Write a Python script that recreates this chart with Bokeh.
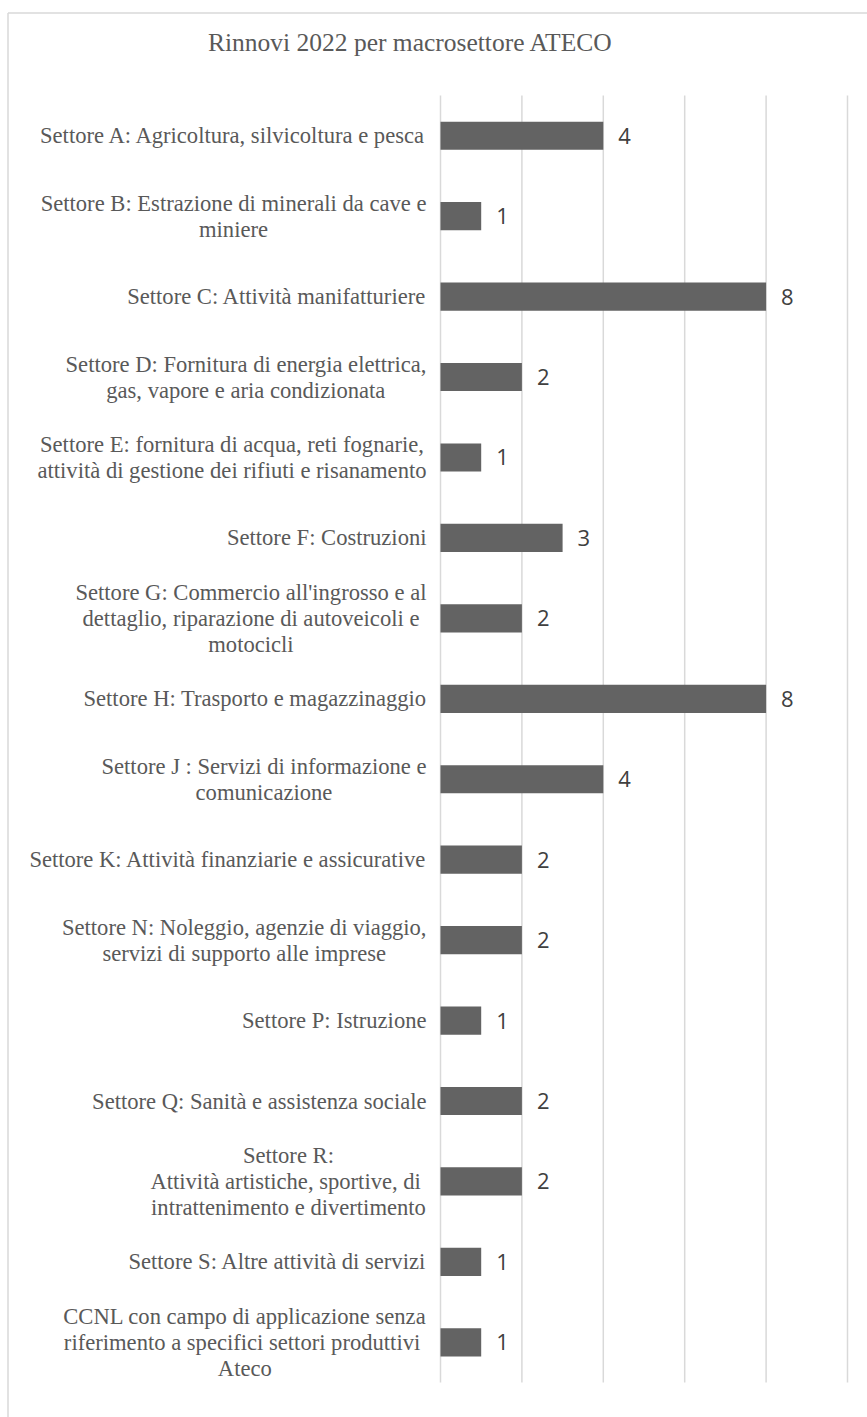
from bokeh.plotting import figure
from bokeh.models import Range1d, ColumnDataSource
from bokeh.core.properties import value
from bokeh.embed import file_html
from bokeh.resources import INLINE

# ---------------- data ----------------
TITLE = "Rinnovi 2022 per macrosettore ATECO"
CATEGORIES = [
    "Settore A: Agricoltura, silvicoltura e pesca",
    "Settore B: Estrazione di minerali da cave e\nminiere",
    "Settore C: Attività manifatturiere",
    "Settore D: Fornitura di energia elettrica,\ngas, vapore e aria condizionata",
    "Settore E: fornitura di acqua, reti fognarie,\nattività di gestione dei rifiuti e risanamento",
    "Settore F: Costruzioni",
    "Settore G: Commercio all'ingrosso e al\ndettaglio, riparazione di autoveicoli e\nmotocicli",
    "Settore H: Trasporto e magazzinaggio",
    "Settore J : Servizi di informazione e\ncomunicazione",
    "Settore K: Attività finanziarie e assicurative",
    "Settore N: Noleggio, agenzie di viaggio,\nservizi di supporto alle imprese",
    "Settore P: Istruzione",
    "Settore Q: Sanità e assistenza sociale",
    "Settore R:\nAttività artistiche, sportive, di \nintrattenimento e divertimento",
    "Settore S: Altre attività di servizi",
    "CCNL con campo di applicazione senza\nriferimento a specifici settori produttivi \nAteco",
]
VALUES = [4, 1, 8, 2, 1, 3, 2, 8, 4, 2, 2, 1, 2, 2, 1, 1]
X_TICKS = [0, 2, 4, 6, 8, 10]

# ---------------- layout ----------------
W, H = 867, 1417
ZERO_PX = 440                 # px where value 0 lies
UNIT_PX = 40.7                # px per unit of value
TOP_PX = 95                   # px of the top of the category area
BAND_PX = 80.44               # px per category band
LABEL_SIZE = 22.6
LABEL_GAP = 14
LINE_PX = 26
SERIF = "Liberation Serif"
TEXT_GREY = "#595959"
GRID_GREY = "#d9d9d9"
BAR_COLOR = "#636363"

x_start = -ZERO_PX / UNIT_PX
x_end = x_start + W / UNIT_PX
y_top = -0.5 - TOP_PX / BAND_PX
y_bot = y_top + H / BAND_PX


def fx(px):
    return x_start + px / UNIT_PX


def fy(py):
    return y_top + py / BAND_PX


# Times / Liberation Serif advance widths (1/1000 em), used to centre lines
_W = {' ': 250, "'": 180, ',': 250, ':': 278, '.': 250, 'à': 444,
      'A': 722, 'B': 667, 'C': 667, 'D': 722, 'E': 611, 'F': 556, 'G': 722,
      'H': 722, 'I': 333, 'J': 389, 'K': 722, 'L': 611, 'M': 889, 'N': 722,
      'O': 722, 'P': 556, 'Q': 722, 'R': 667, 'S': 556, 'T': 611, 'U': 722,
      'V': 722, 'W': 944, 'X': 722, 'Y': 722, 'Z': 611,
      'a': 444, 'b': 500, 'c': 444, 'd': 500, 'e': 444, 'f': 333, 'g': 500,
      'h': 500, 'i': 278, 'j': 278, 'k': 500, 'l': 278, 'm': 778, 'n': 500,
      'o': 500, 'p': 500, 'q': 500, 'r': 333, 's': 389, 't': 278, 'u': 500,
      'v': 500, 'w': 722, 'x': 500, 'y': 500, 'z': 444}


def text_w(s, size):
    return sum(_W.get(ch, 500) for ch in s) * size / 1000.0


idx = list(range(len(CATEGORIES)))

p = figure(width=W, height=H,
           x_range=Range1d(x_start, x_end), y_range=Range1d(y_bot, y_top),
           output_backend="svg", toolbar_location=None,
           x_axis_location=None, y_axis_location=None,
           min_border=0, outline_line_color=None)
for g in p.grid:
    g.visible = False
p.background_fill_color = "white"
p.border_fill_color = "white"

# chart border (left and top edges visible in the crop)
p.segment(x0=[fx(7.5), fx(7.5)], y0=[fy(12.5), fy(12.5)], x1=[fx(7.5), x_end], y1=[y_bot, fy(12.5)],
          line_color=GRID_GREY, line_width=1.5)

# vertical gridlines
p.segment(x0=X_TICKS, x1=X_TICKS, y0=[-0.5] * len(X_TICKS), y1=[len(CATEGORIES) - 0.5] * len(X_TICKS),
          line_color=GRID_GREY, line_width=1.5)

# bars
p.hbar(y=idx, left=0, right=VALUES, height=0.35, fill_color=BAR_COLOR, line_color=None)

# value labels
p.text(x=VALUES, y=idx, text=[str(v) for v in VALUES], x_offset=15,
       text_baseline="middle", text_align="left",
       text_font=value("Open Sans"), text_font_size=value("22px"), text_color="#404040")

# category labels (right-aligned block, centred lines)
lx, ly, ltxt, lxo, lyo = [], [], [], [], []
for i, cat in enumerate(CATEGORIES):
    lines = cat.split("\n")
    widths = [text_w(l, LABEL_SIZE) for l in lines]
    maxw = max(widths)
    n = len(lines)
    for j, (l, w) in enumerate(zip(lines, widths)):
        stripped = l.rstrip()
        trail = w - text_w(stripped, LABEL_SIZE)
        lx.append(0)
        ly.append(i)
        ltxt.append(stripped)
        lxo.append(-(LABEL_GAP + (maxw - w) / 2 + trail))
        lyo.append((j - (n - 1) / 2) * LINE_PX)

src = ColumnDataSource(dict(x=lx, y=ly, text=ltxt, xo=lxo, yo=lyo))
p.text(x="x", y="y", text="text", x_offset="xo", y_offset="yo", source=src,
       text_align="right", text_baseline="middle",
       text_font=value(SERIF), text_font_size=value("%.1fpx" % LABEL_SIZE), text_color=TEXT_GREY)

# title
p.text(x=[fx(410)], y=[fy(42)], text=[TITLE],
       text_align="center", text_baseline="middle",
       text_font=value(SERIF), text_font_size=value("25.5px"), text_color=TEXT_GREY)

open("out.html", "w").write(file_html(p, INLINE))
